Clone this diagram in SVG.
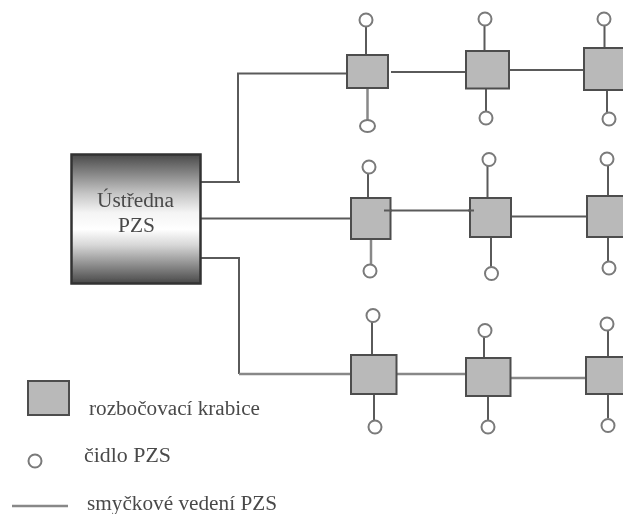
<svg xmlns="http://www.w3.org/2000/svg" width="623" height="514" viewBox="0 0 623 514">
<style>
.w{fill:none;stroke:#5a5a5a;stroke-width:2}
.l{fill:none;stroke:#888;stroke-width:2.500}
.b{fill:#b9b9b9;stroke:#4d4d4d;stroke-width:2}
.s{fill:#fff;stroke:#7a7a7a;stroke-width:2}
text{font-family:"Liberation Serif","DejaVu Serif",serif;fill:#4a4a4a;font-size:20px}
</style>
<defs>
<linearGradient id="g" x1="0" y1="0" x2="0" y2="1">
<stop offset="0" stop-color="#4a4a4a"/><stop offset=".3" stop-color="#c4c4c4"/><stop offset=".45" stop-color="#f4f4f4"/><stop offset=".58" stop-color="#fff"/><stop offset=".7" stop-color="#d8d8d8"/><stop offset="1" stop-color="#484848"/>
</linearGradient>
<filter id="f" x="-5%" y="-5%" width="110%" height="110%"><feGaussianBlur stdDeviation="0.6"/></filter>
</defs>
<rect width="623" height="514" fill="#fff"/>
<g filter="url(#f)">
<g id="connectors">
<path class="w" d="M201 182H240M238 182V73.500H347M391 72H466M509 70H584M366 27V55M484.500 26V51M486 88V111M604.500 26V48M607 90V112"/>
<path class="l" d="M367.500 88V120"/>
<path class="w" d="M201 218.500H351M384 210.500H474M511 216.500H587M368 174V198M487.500 166V198M491 237V267M608 166V196M608 237V261"/>
<path class="l" d="M371 239V264"/>
<path class="w" d="M201 258H239V374"/>
<path class="l" d="M239 374H351M397 374H466M510 378H586"/>
<path class="w" d="M372 322V355M374 394V420M484 337V358M488 396V420M608 331V357M608 394V418"/>
</g>
<g id="central"><rect x="71.500" y="154.500" width="129" height="129" fill="url(#g)" stroke="#333" stroke-width="2.500"/>
<text x="97" y="207" textLength="77" lengthAdjust="spacingAndGlyphs">Ústředna</text><text x="118" y="232" textLength="37" lengthAdjust="spacingAndGlyphs">PZS</text></g>
<g id="r1">
<rect class="b" x="347" y="55" width="41" height="33"/><rect class="b" x="466" y="51" width="43" height="37.500"/><rect class="b" x="584" y="48" width="45" height="42"/>
<circle class="s" cx="366" cy="20" r="6.500"/><ellipse class="s" cx="367.500" cy="126" rx="7.500" ry="6"/><circle class="s" cx="485" cy="19" r="6.500"/><circle class="s" cx="486" cy="118" r="6.500"/><circle class="s" cx="604" cy="19" r="6.500"/><circle class="s" cx="609" cy="119" r="6.500"/>
</g>
<g id="r2">
<rect class="b" x="351" y="198" width="39.500" height="41"/><rect class="b" x="470" y="198" width="41" height="39"/><rect class="b" x="587" y="196" width="42" height="41"/>
<path class="w" d="M384 210.500H392M468 210.500H474"/>
<circle class="s" cx="369" cy="167" r="6.500"/><circle class="s" cx="370" cy="271" r="6.500"/><circle class="s" cx="489" cy="159.500" r="6.500"/><circle class="s" cx="491.500" cy="273.500" r="6.500"/><circle class="s" cx="607" cy="159" r="6.500"/><circle class="s" cx="609" cy="268" r="6.500"/>
</g>
<g id="r3">
<rect class="b" x="351" y="355" width="45.500" height="39"/><rect class="b" x="466" y="358" width="44.500" height="38"/><rect class="b" x="586" y="357" width="44" height="37"/>
<circle class="s" cx="373" cy="315.500" r="6.500"/><circle class="s" cx="375" cy="427" r="6.500"/><circle class="s" cx="485" cy="330.500" r="6.500"/><circle class="s" cx="488" cy="427" r="6.500"/><circle class="s" cx="607" cy="324" r="6.500"/><circle class="s" cx="608" cy="425.500" r="6.500"/>
</g>
<g id="legend">
<rect class="b" x="28" y="381" width="41" height="34"/><circle class="s" cx="35" cy="461" r="6.500"/><path class="l" d="M12 506H68"/>
<text x="89" y="415" textLength="171" lengthAdjust="spacingAndGlyphs">rozbočovací krabice</text><text x="84" y="462" textLength="87" lengthAdjust="spacingAndGlyphs">čidlo PZS</text><text x="87" y="509.500" textLength="190" lengthAdjust="spacingAndGlyphs">smyčkové vedení PZS</text>
</g>
</g>
</svg>
